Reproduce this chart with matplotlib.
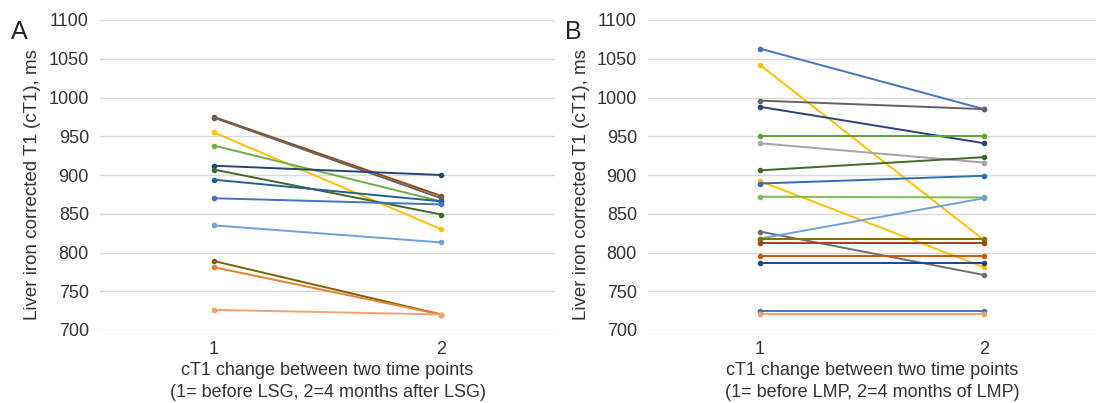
import matplotlib.pyplot as plt

plt.rcParams['font.family'] = ['Liberation Sans', 'DejaVu Sans']

time_points = [1, 2]

# Panel A: before LSG / 4 months after LSG
a_before = [975, 974, 955, 938, 912, 907, 894, 870, 835, 789, 781, 726]
a_after = [873, 870, 830, 866, 900, 849, 866, 862, 813, 720, 720, 720]
a_colors = ['#9E480E', '#636363', '#FFC000', '#70AD47', '#264478', '#43682B',
            '#255E91', '#4472C4', '#6FA0DC', '#7F6000', '#ED7D31', '#F4A170']

# Panel B: before LMP / 4 months of LMP
b_before = [1063, 1042, 996, 988, 950, 941, 906, 892, 889, 872, 827, 818,
            818, 812, 796, 787, 725, 721]
b_after = [985, 816, 985, 941, 950, 916, 923, 781, 899, 871, 771, 870,
           818, 812, 796, 787, 725, 721]
b_colors = ['#4472C4', '#FFC000', '#636363', '#264478', '#5EA33A', '#A5A5A5',
            '#43682B', '#FFC000', '#2E6DB8', '#7DBB55', '#6E6E6E', '#6FA0DC',
            '#8C6A00', '#9E480E', '#C55A11', '#264478', '#4472C4', '#F4A170']

fig = plt.figure(figsize=(10.96, 4.03), dpi=100)
ax_a = fig.add_axes([100 / 1096, 1 - 330 / 403, 455 / 1096, 310 / 403])
ax_b = fig.add_axes([648 / 1096, 1 - 330 / 403, 448 / 1096, 310 / 403])


def draw_panel(ax, before, after, colors, xlabel, ylab_x):
    for b, a, c in zip(before, after, colors):
        ax.plot(time_points, [b, a], color=c, lw=1.4, marker='o', ms=3)
    ax.set_xlim(0.5, 2.5)
    ax.set_ylim(700, 1100)
    ax.set_yticks(range(700, 1101, 50))
    ax.set_xticks(time_points)
    ax.grid(axis='y', color='#d9d9d9', lw=1)
    ax.set_axisbelow(True)
    for s in ax.spines.values():
        s.set_visible(False)
    ax.tick_params(length=0, labelsize=13, colors='#333333', pad=8)
    ax.set_xlabel(xlabel, fontsize=13, color='#333333', linespacing=1.4, labelpad=3)
    ax.set_ylabel('Liver iron corrected T1 (cT1), ms', fontsize=13.5,
                  color='#333333')
    ax.yaxis.set_label_coords(ylab_x, 0.47)


draw_panel(ax_a, a_before, a_after, a_colors,
           'cT1 change between two time points\n(1= before LSG, 2=4 months after LSG)',
           -0.13)
draw_panel(ax_b, b_before, b_after, b_colors,
           'cT1 change between two time points\n(1= before LMP, 2=4 months of LMP)',
           -0.129)

fig.text(11 / 1096, 1 - 32 / 403, 'A', fontsize=18, va='center', color='#222222')
fig.text(565 / 1096, 1 - 32 / 403, 'B', fontsize=18, va='center', color='#222222')

fig.savefig('out.png', dpi=100)
